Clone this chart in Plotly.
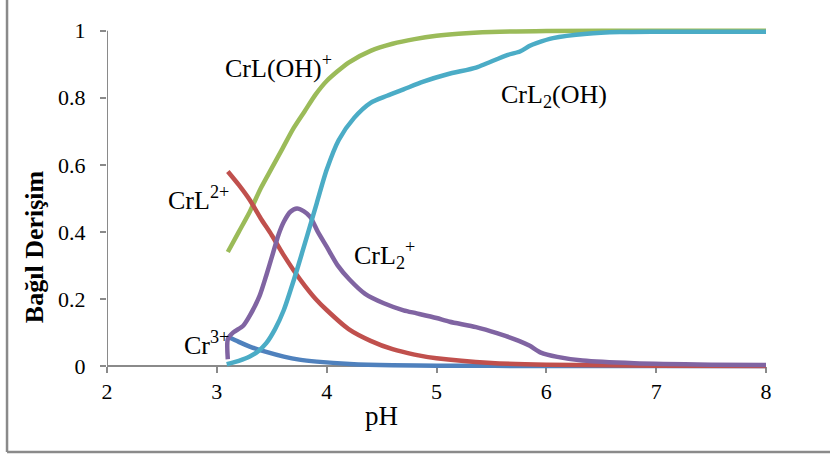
import plotly.graph_objects as go

# ---- data ----
ph_cr3 = [3.10, 3.20, 3.30, 3.45, 3.61, 3.75, 3.91, 4.21, 4.60, 5.00, 6.00, 7.00, 8.00]
cr3 = [0.088, 0.072, 0.058, 0.042, 0.028, 0.019, 0.013, 0.006, 0.002, 0.001, 0.0, 0.0, 0.0]

ph_crl = [3.10, 3.20, 3.30, 3.40, 3.50, 3.60, 3.70, 3.80, 3.90, 4.00, 4.20, 4.40, 4.60,
          4.80, 5.00, 5.50, 6.00, 7.00, 8.00]
crl = [0.58, 0.54, 0.495, 0.44, 0.39, 0.335, 0.285, 0.24, 0.20, 0.167, 0.11, 0.075, 0.05,
       0.034, 0.023, 0.009, 0.004, 0.001, 0.0]

ph_crloh = [3.10, 3.20, 3.30, 3.40, 3.50, 3.60, 3.70, 3.80, 3.90, 4.00, 4.20, 4.40, 4.60,
            4.80, 5.00, 5.20, 5.50, 6.00, 7.00, 8.00]
crloh = [0.34, 0.40, 0.46, 0.53, 0.59, 0.65, 0.71, 0.76, 0.81, 0.85, 0.905, 0.94, 0.961,
         0.975, 0.985, 0.991, 0.996, 0.999, 1.0, 1.0]

ph_crl2 = [3.10, 3.10, 3.15, 3.24, 3.30, 3.39, 3.45, 3.51, 3.56, 3.61, 3.67, 3.73, 3.79,
           3.85, 3.92, 4.00, 4.10, 4.21, 4.35, 4.52, 4.70, 4.82, 5.00, 5.12, 5.36, 5.55,
           5.75, 5.85, 5.95, 6.10, 6.33, 6.80, 7.50, 8.00]
crl2 = [0.02, 0.08, 0.10, 0.12, 0.15, 0.21, 0.27, 0.335, 0.39, 0.43, 0.46, 0.47, 0.462,
        0.445, 0.40, 0.356, 0.30, 0.257, 0.215, 0.187, 0.166, 0.157, 0.143, 0.132, 0.116,
        0.098, 0.075, 0.060, 0.040, 0.027, 0.016, 0.008, 0.004, 0.003]

ph_crl2oh = [3.09, 3.20, 3.30, 3.38, 3.45, 3.53, 3.61, 3.67, 3.73, 3.82, 3.91, 4.00, 4.11,
             4.25, 4.40, 4.55, 4.70, 4.88, 5.10, 5.36, 5.46, 5.65, 5.76, 5.85, 5.91, 6.06,
             6.37, 6.67, 7.00, 8.00]
crl2oh = [0.005, 0.015, 0.028, 0.045, 0.068, 0.11, 0.167, 0.225, 0.287, 0.386, 0.486, 0.585,
          0.674, 0.74, 0.785, 0.806, 0.825, 0.848, 0.87, 0.89, 0.903, 0.928, 0.938, 0.955,
          0.963, 0.978, 0.991, 0.996, 0.997, 0.997]

x_ticks = [2, 3, 4, 5, 6, 7, 8]
y_ticks = [0, 0.2, 0.4, 0.6, 0.8, 1]
y_ticktext = ["0", "0.2", "0.4", "0.6", "0.8", "1"]

labels = [
    ("CrL(OH)<sup>+</sup>", 3.557, 0.893),
    ("CrL<sub>2</sub>(OH)", 6.07, 0.805),
    ("CrL<sup>2+</sup>", 2.833, 0.50),
    ("CrL<sub>2</sub><sup>+</sup>", 4.527, 0.33),
    ("Cr<sup>3+</sup>", 2.91, 0.066),
]

FONT = "Liberation Serif, Times New Roman, serif"
GREY = "#8a8a8a"
LW = 4.5

fig = go.Figure()
series = [
    (ph_cr3, cr3, "#4F81BD"),
    (ph_crloh, crloh, "#9BBB59"),
    (ph_crl, crl, "#C0504D"),
    (ph_crl2, crl2, "#8064A2"),
    (ph_crl2oh, crl2oh, "#4BACC6"),
]
for xs, ys, col in series:
    fig.add_trace(go.Scatter(x=xs, y=ys, mode="lines",
                             line=dict(color=col, width=LW, shape="spline", smoothing=0.7),
                             showlegend=False, hoverinfo="skip"))

for txt, x, y in labels:
    fig.add_annotation(text=txt, x=x, y=y, xref="x", yref="y", showarrow=False,
                       xanchor="center", yanchor="middle",
                       font=dict(family=FONT, size=26, color="black"))

# axis titles
fig.add_annotation(text="pH", x=4.5, y=-0.133, xref="x", yref="paper", showarrow=False,
                   xanchor="center", yanchor="middle",
                   font=dict(family=FONT, size=27, color="black"))
fig.add_annotation(text="<b>Bağıl Derişim</b>", x=-0.109, y=0.355, xref="paper", yref="y",
                   showarrow=False, textangle=-90, xanchor="center", yanchor="middle",
                   font=dict(family=FONT, size=26, color="black"))

# y axis line (0..1) and outer frame
fig.add_shape(type="line", x0=2, x1=2, y0=0, y1=1, xref="x", yref="y",
              line=dict(color=GREY, width=2), layer="below")
fig.add_shape(type="line", x0=-0.1517, x1=-0.1517, y0=-0.237, y1=1.07,
              xref="paper", yref="paper", line=dict(color=GREY, width=2.5))
fig.add_shape(type="line", x0=-0.1517, x1=1.1, y0=-0.237, y1=-0.237,
              xref="paper", yref="paper", line=dict(color=GREY, width=2.5))

fig.update_layout(
    width=830, height=454,
    margin=dict(l=107, r=64, t=24, b=84),
    paper_bgcolor="white", plot_bgcolor="white",
    font=dict(family=FONT, color="black"),
    xaxis=dict(range=[2, 8], tickvals=x_ticks, showgrid=False, zeroline=False,
               showline=True, linecolor=GREY, linewidth=2, layer="below traces",
               ticks="outside", ticklen=6, tickcolor=GREY, tickwidth=1.5,
               anchor="free", position=0.012 / 1.032, ticklabelstandoff=0,
               tickfont=dict(family=FONT, size=22, color="black")),
    yaxis=dict(range=[-0.012, 1.02], tickvals=y_ticks, ticktext=y_ticktext,
               showgrid=False, zeroline=False, showline=False,
               ticks="outside", ticklen=6, tickcolor=GREY, tickwidth=1.5,
               ticklabelstandoff=10,
               tickfont=dict(family=FONT, size=22, color="black")),
)

fig.write_html("out.html", config={"displayModeBar": False},
               post_script="document.body.style.margin='0';document.body.style.overflow='hidden';")
